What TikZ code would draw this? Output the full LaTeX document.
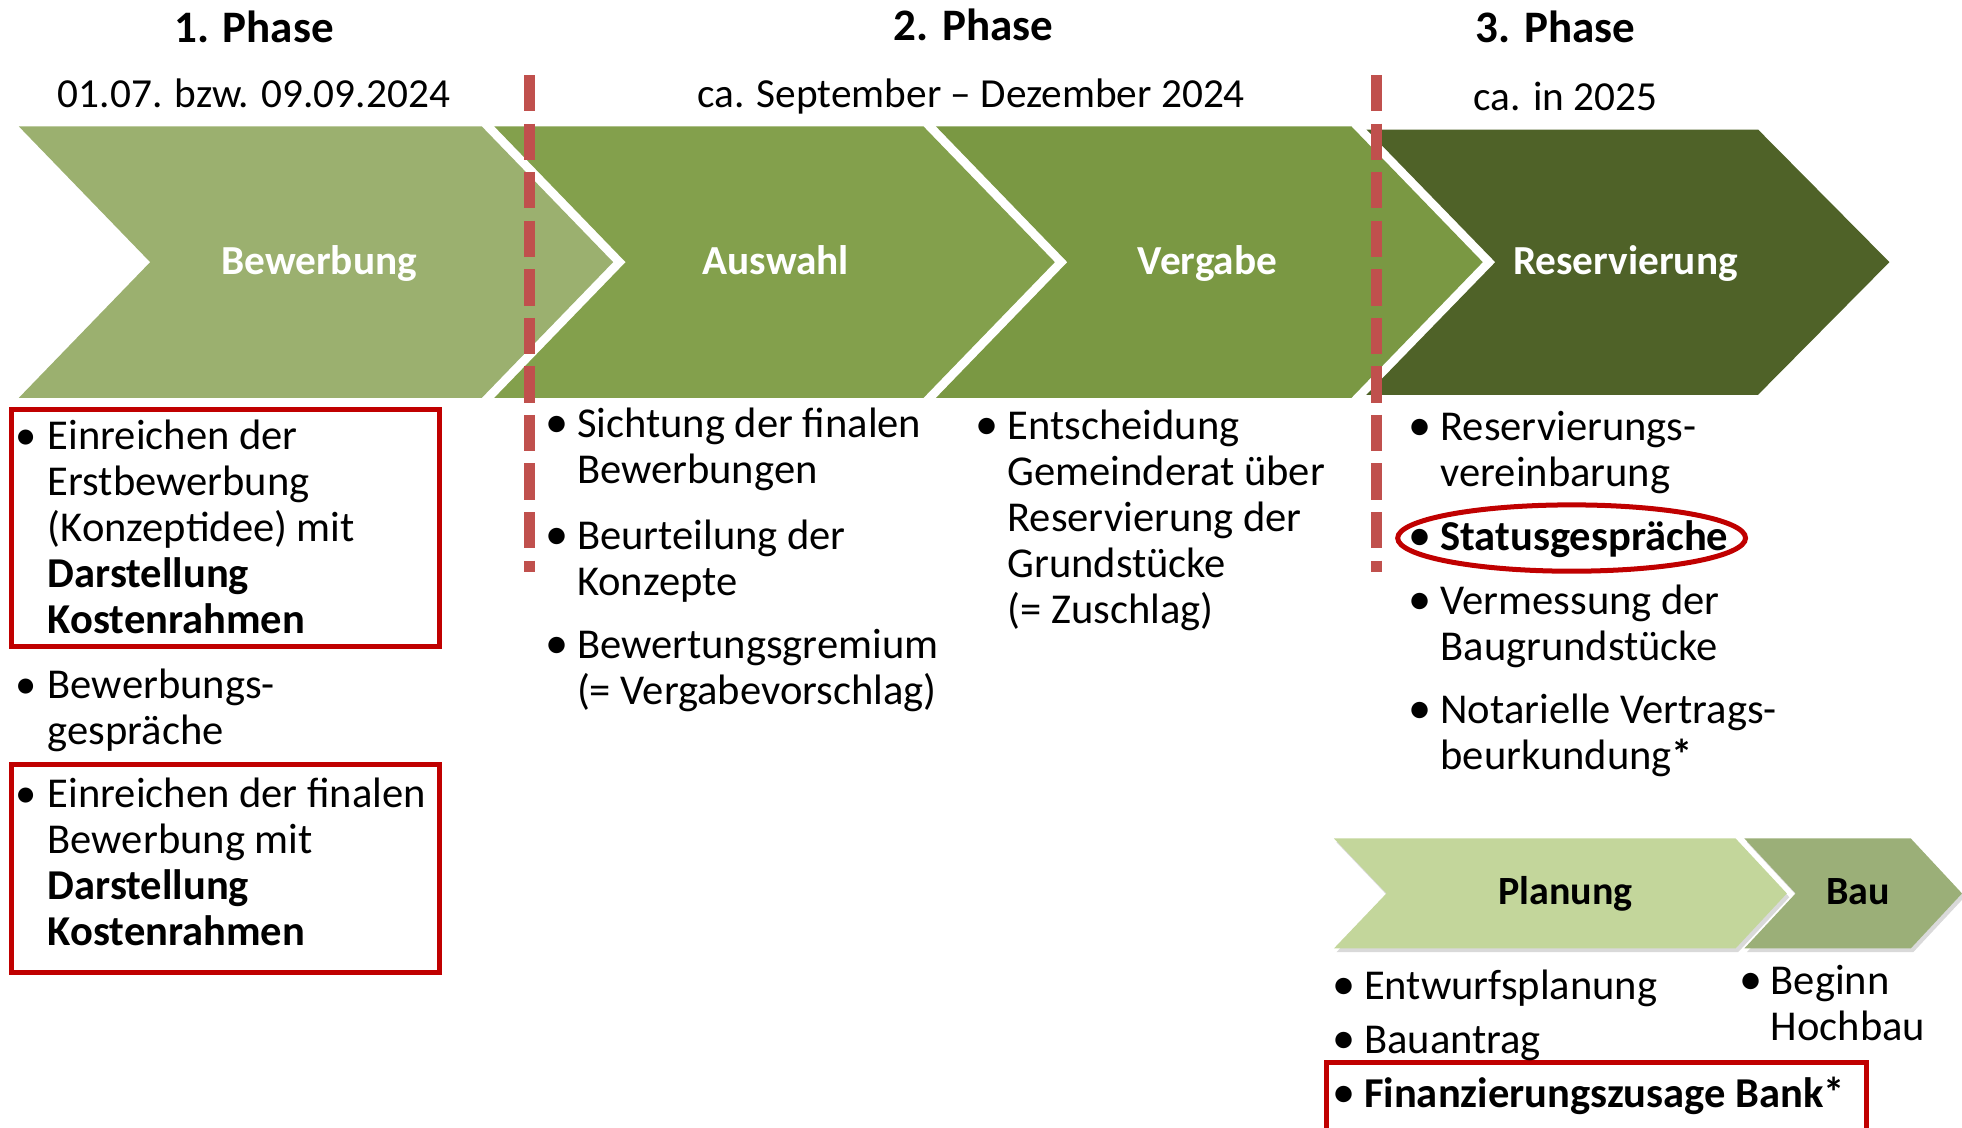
\documentclass[tikz,border=0pt]{standalone}
\usepackage{fontspec}
\setmainfont{Carlito}
\usetikzlibrary{shadows}
\definecolor{bewgreen}{HTML}{9BB06F}
\definecolor{auswgreen}{HTML}{83A04C}
\definecolor{verggreen}{HTML}{7A9843}
\definecolor{resgreen}{HTML}{4F6228}
\definecolor{plangreen}{HTML}{C3D69B}
\definecolor{baugreen}{HTML}{9BAF78}
\definecolor{cutred}{HTML}{C0504D}
\definecolor{markred}{HTML}{C00000}
\pgfdeclarelayer{edgelayer}
\pgfdeclarelayer{nodelayer}
\pgfsetlayers{edgelayer,main,nodelayer}
\tikzstyle{head}=[anchor=base,inner sep=0pt,font=\bfseries\fontsize{36}{40}\selectfont]
\tikzstyle{date}=[anchor=base,inner sep=0pt,font=\fontsize{33}{36}\selectfont]
\tikzstyle{chevlabel}=[anchor=base,inner sep=0pt,text=white,font=\bfseries\fontsize{33}{36}\selectfont]
\tikzstyle{sublabel}=[anchor=base,inner sep=0pt,text=black,font=\bfseries\fontsize{32}{36}\selectfont]
% base of a multi-line item = baseline of its last line
\tikzstyle{item}=[anchor=base west,align=left,inner sep=0pt,font=\fontsize{34}{36.8}\selectfont]
\tikzstyle{cutline}=[draw=cutred,line width=9pt,dash pattern=on 29pt off 9.8pt]
\tikzstyle{markbox}=[draw=markred,line width=4pt]
\tikzstyle{subphase}=[drop shadow={opacity=0.3,shadow xshift=2pt,shadow yshift=-3pt}]
\newcommand{\smallbul}{\llap{•\hspace{9pt}}}
\newcommand{\bigbul}{\llap{{\fontsize{37}{0}\selectfont •}\hspace{7pt}}}

\begin{document}
\begin{tikzpicture}[x=1pt,y=-1pt]
	\clip (0,0) rectangle (1568,901);
	\begin{pgfonlayer}{edgelayer}
		% phase chevrons, drawn right to left
		\fill [resgreen] (1092,103.5) -- (1405,103.5) -- (1510,209.5) -- (1405,315.5) -- (1092,315.5) -- (1195,209.5) -- cycle;
		\fill [verggreen] (748,101) -- (1080,101) -- (1185,209.5) -- (1080,318) -- (748,318) -- (853,209.5) -- cycle;
		\fill [auswgreen] (395,101) -- (738,101) -- (843,209.5) -- (738,318) -- (395,318) -- (500,209.5) -- cycle;
		\fill [bewgreen] (15,101) -- (385,101) -- (490,209.5) -- (385,318) -- (15,318) -- (120,209.5) -- cycle;
		% Planung / Bau
		\fill [style=subphase, baugreen] (1394,670) -- (1527,670) -- (1568,714) -- (1527,758) -- (1394,758) -- (1435,714) -- cycle;
		\fill [style=subphase, plangreen] (1066,670) -- (1387,670) -- (1428,714) -- (1387,758) -- (1066,758) -- (1108,714) -- cycle;
	\end{pgfonlayer}

	\coordinate (cut1top) at (423,60);
	\coordinate (cut1bot) at (423,457);
	\coordinate (cut2top) at (1100,60);
	\coordinate (cut2bot) at (1100,457);
	\draw [style=cutline] (cut1top) -- (cut1bot);
	\draw [style=cutline] (cut2top) -- (cut2bot);

	\begin{pgfonlayer}{nodelayer}
		\node [style=head] (ph1) at (203,34) {1. Phase};
		\node [style=head] (ph2) at (778,32) {2. Phase};
		\node [style=head] (ph3) at (1243,34) {3. Phase};
		\node [style=date] (d1) at (203,86) {01.07. bzw. 09.09.2024};
		\node [style=date] (d2) at (776,86) {ca. September – Dezember 2024};
		\node [style=date] (d3) at (1251,88) {ca. in 2025};

		\node [style=chevlabel] (bew) at (255,219) {Bewerbung};
		\node [style=chevlabel] (ausw) at (620,219) {Auswahl};
		\node [style=chevlabel] (verg) at (965,219) {Vergabe};
		\node [style=chevlabel] (res) at (1299,219) {Reservierung};
		\node [style=sublabel] (plan) at (1251,723) {Planung};
		\node [style=sublabel] (bau) at (1485,723) {Bau};

		\node [style=item] (erst) at (38,506.2) {\smallbul Einreichen der\\Erstbewerbung\\(Konzeptidee) mit\\\textbf{Darstellung}\\\textbf{Kostenrahmen}};
		\node [style=item] (gespr) at (38,594.8) {\smallbul Bewerbungs-\\gespräche};
		\node [style=item] (final) at (38,755.4) {\smallbul Einreichen der finalen\\Bewerbung mit\\\textbf{Darstellung}\\\textbf{Kostenrahmen}};

		\node [style=item] (sicht) at (461,386.8) {\bigbul Sichtung der finalen\\Bewerbungen};
		\node [style=item] (beurt) at (461,475.8) {\bigbul Beurteilung der\\Konzepte};
		\node [style=item] (grem) at (461,562.8) {\bigbul Bewertungsgremium\\(= Vergabevorschlag)};

		\node [style=item] (entsch) at (805,498.2) {\bigbul Entscheidung\\Gemeinderat über\\Reservierung der\\Grundstücke\\(= Zuschlag)};

		\node [style=item] (resv) at (1151,388.8) {\bigbul Reservierungs-\\vereinbarung};
		\node [style=item] (status) at (1151,440) {\bigbul\textbf{Statusgespräche}};
		\node [style=item] (verm) at (1151,527.8) {\bigbul Vermessung der\\Baugrundstücke};
		\node [style=item] (notar) at (1151,614.8) {\bigbul Notarielle Vertrags-\\beurkundung\textbf{*}};

		\node [style=item] (entw) at (1090,799) {\bigbul Entwurfsplanung};
		\node [style=item] (antrag) at (1090,842) {\bigbul Bauantrag};
		\node [style=item] (finanz) at (1090,885) {\bigbul\textbf{Finanzierungszusage Bank*}};
		\node [style=item] (hoch) at (1415,831.8) {\bigbul Beginn\\Hochbau};
	\end{pgfonlayer}

	% highlights
	\draw [style=markbox] (9,327) rectangle (351,517);
	\draw [style=markbox] (9,611) rectangle (351,777);
	\draw [style=markbox] (1060,849) rectangle (1492,910);
	\draw [style=markbox] (1256,430) ellipse [x radius=139, y radius=26.5];
\end{tikzpicture}
\end{document}
